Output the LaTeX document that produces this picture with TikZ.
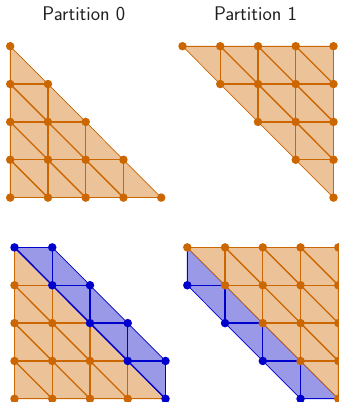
\documentclass[tikz,border=0pt]{standalone}
\definecolor{oc}{RGB}{204,102,0}
\definecolor{ofill}{RGB}{236,194,153}
\definecolor{bc}{RGB}{0,0,204}
\definecolor{bfill}{RGB}{153,153,232}
\tikzset{
  onode/.style={circle,fill=oc,inner sep=0pt,minimum size=8.5pt},
  bnode/.style={circle,fill=bc,inner sep=0pt,minimum size=8.5pt},
  oedge/.style={draw=oc,line width=1.35pt},
  bedge/.style={draw=bc,line width=1.35pt},
  oregion/.style={fill=ofill,draw=oc,line width=0.7pt,line join=round},
  bregion/.style={fill=bfill,draw=bc,line width=0.7pt,line join=round},
  title/.style={font=\fontsize{19.8}{23}\selectfont\sffamily,text=black!88,inner sep=0pt}
}
\begin{document}
\begin{tikzpicture}[x=1pt,y=-1pt]
\useasboundingbox (0,0) rectangle (339,402);
\clip (0,0) rectangle (339,402);
% grid coordinates
\foreach \p/\xo/\yo in {A/10.2/46.2, B/182.5/46.2, C/14.5/247.4, D/187.3/247.4} {
  \foreach \i in {0,...,4} {
    \foreach \r in {0,...,4} {
      \coordinate (\p-\i-\r) at ({\xo+37.75*\i},{\yo+37.85*\r});
    }
  }
}
% titles
\node[title] (t0) at (83.8,14) {Partition 0};
\node[title] (t1) at (255.5,14) {Partition 1};

% ---------- lower-left style orange mesh (A and C)
\foreach \p in {A,C} {
  \path[oregion] (\p-0-0) -- (\p-0-4) -- (\p-4-4) -- cycle;
  \foreach \r [evaluate=\r as \rm using int(\r-1)] in {1,...,4} {
    \foreach \i [evaluate=\i as \ii using int(\i+1)] in {0,...,\rm} {
      \draw[oedge] (\p-\i-\r) -- (\p-\ii-\r);
    }
  }
  \foreach \r [evaluate=\r as \rr using int(\r+1)] in {0,...,3} {
    \foreach \i in {0,...,\r} {
      \draw[oedge] (\p-\i-\r) -- (\p-\i-\rr);
    }
  }
  \foreach \r [evaluate=\r as \rr using int(\r+1), evaluate=\r as \rm using int(\r-1)] in {1,...,3} {
    \foreach \i [evaluate=\i as \ii using int(\i+1)] in {0,...,\rm} {
      \draw[oedge] (\p-\i-\r) -- (\p-\ii-\rr);
    }
  }
}
% ---------- panel D blue band (under orange)
\path[bregion] (D-0-0) -- (D-0-1) -- (D-3-4) -- (D-4-4) -- cycle;
\foreach \r [evaluate=\r as \rr using int(\r+1)] in {0,...,3} {
  \draw[bedge] (D-\r-\r) -- (D-\r-\rr);
  \draw[bedge] (D-\r-\rr) -- (D-\rr-\rr);
}
% ---------- upper-right style orange mesh (B and D)
\foreach \p in {B,D} {
  \path[oregion] (\p-0-0) -- (\p-4-0) -- (\p-4-4) -- cycle;
  \foreach \r in {0,...,3} {
    \foreach \i [evaluate=\i as \ii using int(\i+1)] in {\r,...,3} {
      \draw[oedge] (\p-\i-\r) -- (\p-\ii-\r);
    }
  }
  \foreach \r [evaluate=\r as \rr using int(\r+1)] in {0,...,3} {
    \foreach \i in {\rr,...,4} {
      \draw[oedge] (\p-\i-\r) -- (\p-\i-\rr);
    }
  }
  \foreach \r [evaluate=\r as \rr using int(\r+1)] in {0,...,2} {
    \foreach \i [evaluate=\i as \ii using int(\i+1)] in {\rr,...,3} {
      \draw[oedge] (\p-\i-\r) -- (\p-\ii-\rr);
    }
  }
}
% ---------- panel C blue band (over orange)
\path[bregion] (C-0-0) -- (C-1-0) -- (C-4-3) -- (C-4-4) -- cycle;
\foreach \r [evaluate=\r as \rr using int(\r+1)] in {0,...,3} {
  \draw[bedge] (C-\r-\r) -- (C-\rr-\r);
  \draw[bedge] (C-\rr-\r) -- (C-\rr-\rr);
  \draw[bedge] (C-\r-\r) -- (C-\rr-\rr);
}
% ---------- nodes
\foreach \r in {0,...,4} {
  \foreach \i in {0,...,\r} { \node[onode] (nA-\i-\r) at (A-\i-\r) {}; }
  \foreach \i in {\r,...,4} { \node[onode] (nB-\i-\r) at (B-\i-\r) {}; }
  \foreach \i in {\r,...,4} { \node[onode] (nD-\i-\r) at (D-\i-\r) {}; }
}
\foreach \r [evaluate=\r as \rm using int(\r-1)] in {1,...,4} {
  \foreach \i in {0,...,\rm} { \node[onode] (nC-\i-\r) at (C-\i-\r) {}; }
}
\foreach \r [evaluate=\r as \rr using int(\r+1)] in {0,...,3} {
  \node[bnode] (nCa-\r) at (C-\r-\r) {};
  \node[bnode] (nCb-\r) at (C-\rr-\r) {};
  \node[bnode] (nDb-\r) at (D-\r-\rr) {};
}
\node[bnode] (nCa-4) at (C-4-4) {};
\end{tikzpicture}
\end{document}
